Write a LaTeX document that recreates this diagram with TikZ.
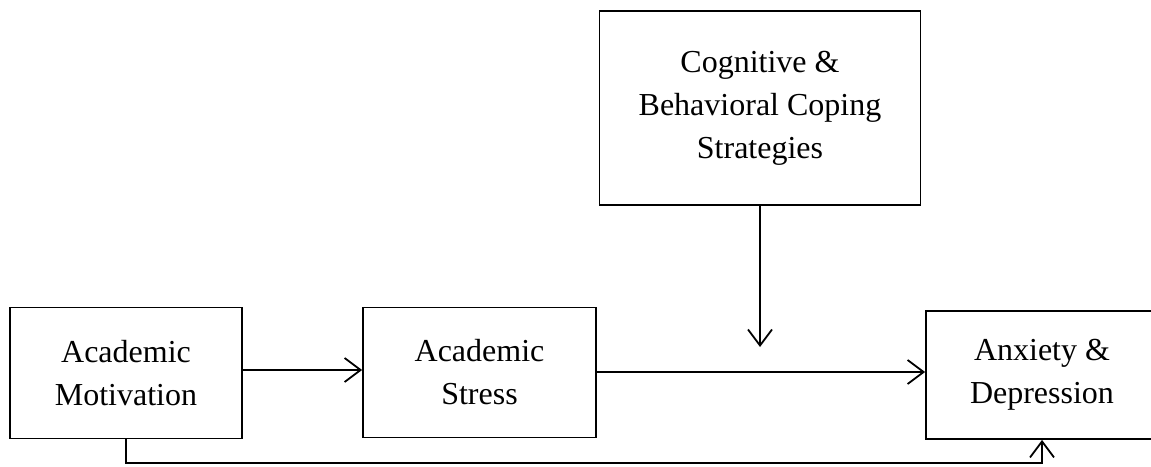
\documentclass[tikz,border=0pt]{standalone}
\usepackage{fontspec}
\setmainfont{Liberation Serif}
\usetikzlibrary{arrows.meta}
\begin{document}
\begin{tikzpicture}[x=1pt,y=-1pt,
  box/.style={draw, line width=1.8pt, align=center, inner sep=0pt,
    font=\fontsize{32}{43}\selectfont, text=black},
  link/.style={line width=1.8pt, -{Straight Barb[length=16pt,width=24pt,line width=1.8pt]}},
  mainlink/.style={link, line width=2.6pt}]
  \useasboundingbox (0,0) rectangle (1151,466);

  % factors
  \node[box, minimum width=232pt, minimum height=131pt] (mot) at (126,373)
    {Academic\\Motivation};
  \node[box, minimum width=233pt, minimum height=130pt] (str) at (479.5,372.5)
    {Academic\\Stress};
  \node[box, minimum width=232pt, minimum height=128pt] (anx) at (1042,375)
    {Anxiety \&\\Depression};
  \node[box, minimum width=321pt, minimum height=194pt] (cog) at (760,108)
    {Cognitive \&\\Behavioral Coping\\Strategies};

  % paths
  \draw[mainlink] (mot.east |- 0,370) -- (str.west |- 0,370);
  \draw[mainlink] (str.east |- 0,372) -- (anx.west |- 0,372);
  \coordinate (mod) at (760,347);
  \draw[link] (cog.south) -- (mod);
  \coordinate (lowL) at (126,463);
  \coordinate (lowR) at (1042,463);
  \draw[link] (mot.south) -- (lowL) -- (lowR) -- (anx.south);
\end{tikzpicture}
\end{document}
